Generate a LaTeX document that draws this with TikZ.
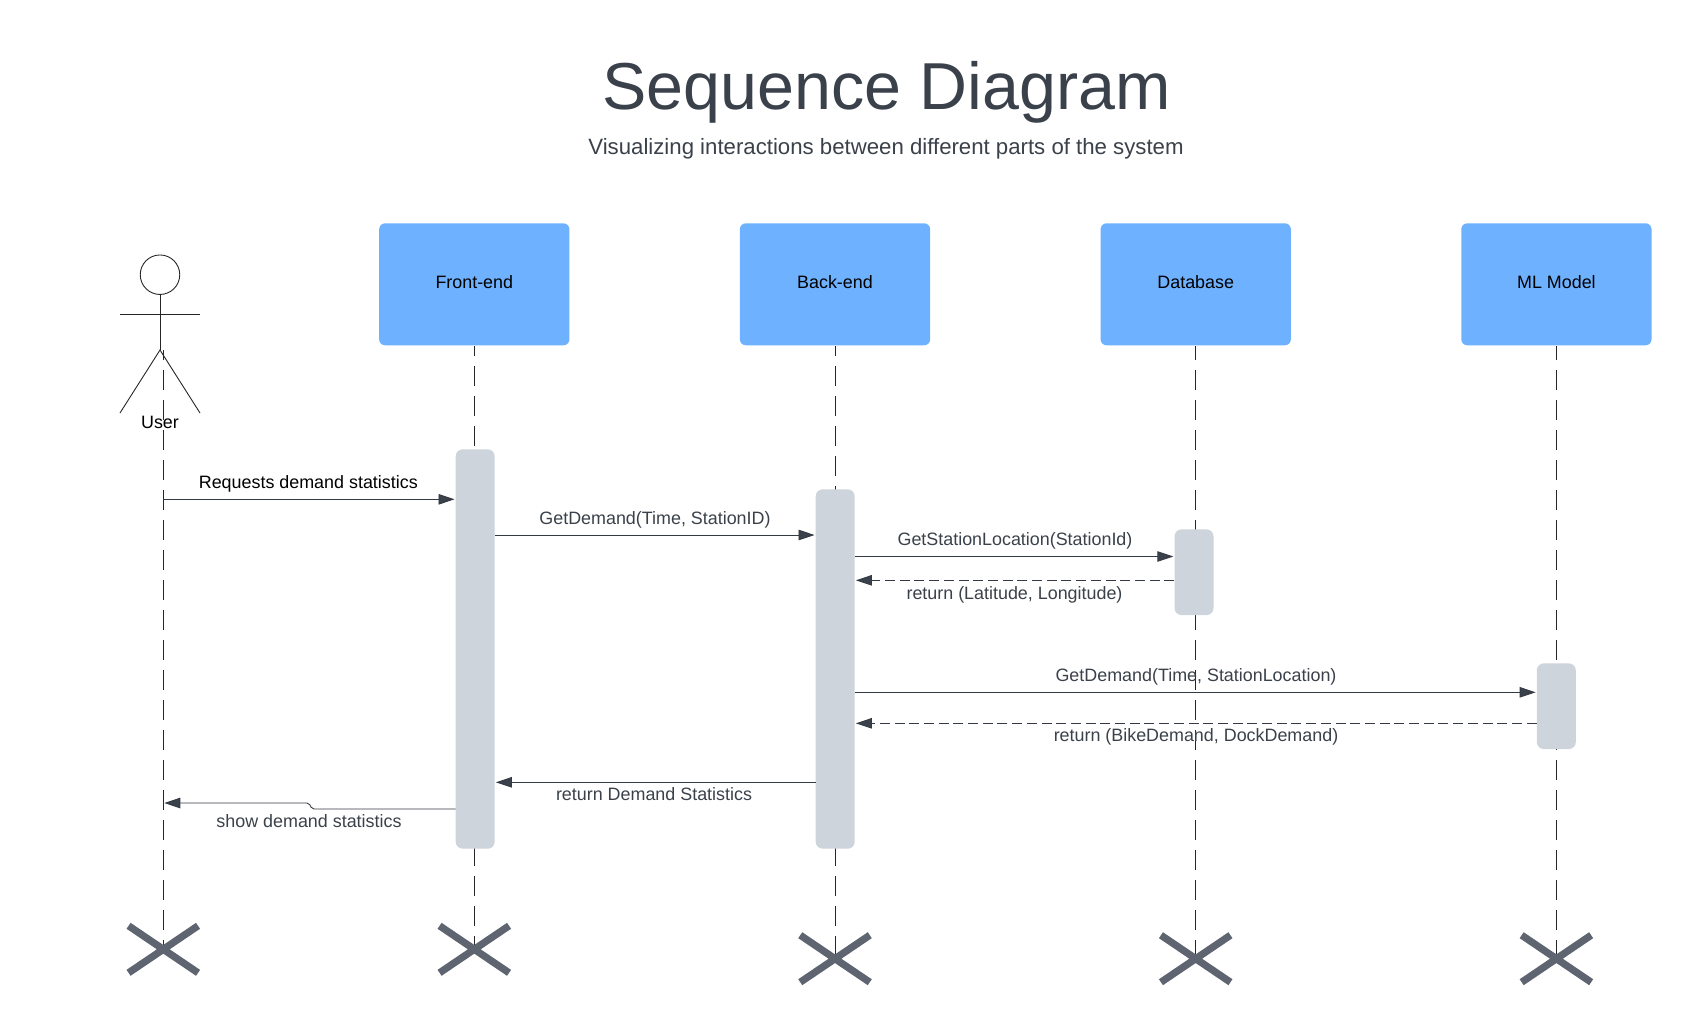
\documentclass[tikz,border=0pt]{standalone}
\usepackage{fontspec}
\setmainfont{Liberation Sans}
\usetikzlibrary{
    arrows.meta,
    positioning,
    backgrounds,
    shapes.misc
}
\definecolor{boxcol}{HTML}{6DB1FF}
\definecolor{actcol}{HTML}{CED4DB}
\definecolor{crosscol}{HTML}{5E6470}
\definecolor{inkcol}{HTML}{3A414A}
\definecolor{tipcol}{HTML}{3A414A}

\begin{document}
\begin{tikzpicture}[
    x=1pt, y=-1pt,
    font=\fontsize{17.9}{22}\selectfont,
    partbox/.style={
        fill=boxcol, rounded corners=6pt, inner sep=0pt,
        minimum width=190.3pt, minimum height=122pt,
        text height=0.96em, text depth=0.21em
    },
    actbox/.style={
        fill=actcol, rounded corners=7pt, inner sep=0pt,
        minimum width=39pt
    },
    endcross/.style={
        cross out, draw=crosscol, line width=7.2pt, inner sep=0pt, outer sep=0pt,
        minimum width=69.5pt, minimum height=47pt
    },
    lifeline/.style={line width=0.9pt, black!85, dash pattern=on 20pt off 10pt},
    msg/.style={-{Triangle[length=16pt,width=10.5pt,fill=tipcol]}, line width=0.9pt, inkcol!90!black, shorten >=1pt},
    retmsg/.style={msg, dash pattern=on 10pt off 4.7pt},
    msglabel/.style={text=inkcol, inner sep=0pt, text height=0.72em, text depth=0.21em},
    limb/.style={line width=0.9pt, black!85},
]
\useasboundingbox (0,0) rectangle (1692,1029);

% ── Title ──
\node[font=\fontsize{66.4}{70}\selectfont, text=inkcol] (title) at (886.5,92.5) {Sequence Diagram};
\node[font=\fontsize{22.2}{26}\selectfont, text=inkcol] (subtitle) at (886,148.4) {Visualizing interactions between different parts of the system};

% ── Participants ──
\node[partbox] (front) at (474.3,284.3) {Front-end};
\node[partbox, right=170pt of front] (back) {Back-end};
\node[partbox, right=170pt of back] (db) {Database};
\node[partbox, right=170pt of db] (ml) {ML Model};

% Stick figure
\node[draw, limb, circle, inner sep=0pt, minimum size=39.5pt] (head) at (160,274.7) {};
\coordinate (hip) at (160,350);
\coordinate (armL) at (120,314);
\coordinate (armR) at (200,314);
\coordinate (footL) at (120,413);
\coordinate (footR) at (200,413);
\draw[limb] (head.south) -- (hip);
\draw[limb] (armL) -- (armR);
\draw[limb] (footL) -- (hip) -- (footR);
\node[inner sep=0pt, text height=0.72em, text depth=0.21em] (user) at (160,426) {User};
\coordinate (userline) at (163.3,350);

% ── Activation bars ──
\node[actbox, minimum height=399.4pt] (actfront) at (475.2,649) {};
\node[actbox, minimum height=359.4pt] (actback) at (835.2,669) {};
\node[actbox, minimum height=85.7pt] (actdb) at (1194,572.2) {};
\node[actbox, minimum height=85.7pt] (actml) at (1556.3,706.2) {};

% ── End marks ──
\coordinate (endrow) at (0,958.7);
\node[endcross] (xuser) at (163.3,949.3) {};
\node[endcross] (xfront) at (474.3,949.3) {};
\node[endcross] (xback) at (back |- endrow) {};
\node[endcross] (xdb) at (db |- endrow) {};
\node[endcross] (xml) at (ml |- endrow) {};

% ── Lifelines ──
\begin{scope}[on background layer]
    \draw[lifeline, dash phase=10pt] (userline) -- (xuser.center);
    \draw[lifeline, dash phase=9.3pt] (front.south) -- (xfront.center);
    \draw[lifeline, dash phase=9.3pt] (back.south) -- (xback.center);
    \draw[lifeline, dash phase=5.3pt] (db.south) -- (xdb.center);
    \draw[lifeline, dash phase=5.3pt] (ml.south) -- (xml.center);
\end{scope}

% ── Message rows ──
\coordinate (m1) at (0,499.3);
\coordinate (m2) at (0,535);
\coordinate (m3) at (0,556.5);
\coordinate (m4) at (0,580.3);
\coordinate (m5) at (0,692.3);
\coordinate (m6) at (0,723.3);
\coordinate (m7) at (0,782.3);
\coordinate (m8) at (0,809);

% ── Messages ──
\draw[msg] (userline |- m1) -- (actfront.west |- m1);
\node[msglabel, text=black] (l1) at (308.3,486) {Requests demand statistics};

\draw[msg] (actfront.east |- m2) -- (actback.west |- m2);
\node[msglabel] (l2) at (655,522.3) {GetDemand(Time, StationID)};

\draw[msg] (actback.east |- m3) -- (actdb.west |- m3);
\node[msglabel] (l3) at (1015,543) {GetStationLocation(StationId)};

\draw[retmsg] (actdb.west |- m4) -- (actback.east |- m4);
\node[msglabel] (l4) at (1014.5,596.8) {return (Latitude, Longitude)};

\draw[msg] (actback.east |- m5) -- (actml.west |- m5);
\node[msglabel] (l5) at (1196,679.3) {GetDemand(Time, StationLocation)};

\draw[retmsg] (actml.west |- m6) -- (actback.east |- m6);
\node[msglabel] (l6) at (1196,739) {return (BikeDemand, DockDemand)};

\draw[msg] (actback.west |- m7) -- (actfront.east |- m7);
\node[msglabel] (l7) at (654,798.4) {return Demand Statistics};

% Small step half way along
\coordinate (stepA) at (312,809);
\coordinate (stepB) at (309,803);
\draw[msg, rounded corners=2pt] (actfront.west |- m8) -- (stepA) -- (stepB) -- (userline |- stepB);
\node[msglabel] (l8) at (309,824.8) {show demand statistics};

\end{tikzpicture}
\end{document}
